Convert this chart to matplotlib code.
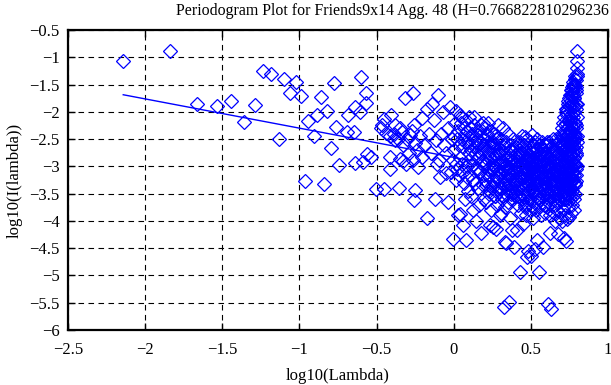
import matplotlib
matplotlib.use("Agg")
import matplotlib.pyplot as plt

TITLE = "Periodogram Plot for Friends9x14 Agg. 48 (H=0.766822810296236"

# periodogram points (log10 lambda, log10 I)
log_lambda = [
    # sparse low-frequency part
    -2.142, -1.838, -1.664, -1.536, -1.442, -1.358, -1.291, -1.238, -1.187, -1.133,
    -1.100, -1.060, -1.020, -0.989, -0.967, -0.944, -0.907, -0.889, -0.860, -0.838,
    -0.822, -0.793, -0.778, -0.760, -0.745, -0.693, -0.682, -0.649, -0.638, -0.640,
    -0.609, -0.604, -0.585, -0.571, -0.571, -0.562, -0.533, -0.504, -0.470, -0.467,
    -0.449, -0.449, -0.440, -0.416, -0.416, -0.410, -0.404, -0.390, -0.382, -0.382,
    -0.360, -0.355, -0.351, -0.350, -0.338, -0.330, -0.327, -0.318, -0.310, -0.300,
    -0.293, -0.282, -0.270, -0.265, -0.262, -0.260, -0.256, -0.251, -0.249, -0.240,
    -0.229, -0.220, -0.204, -0.204, -0.190, -0.171, -0.170, -0.160, -0.150, -0.138,
    -0.130, -0.120, -0.116, -0.110, -0.104, -0.093, -0.090, -0.080, -0.071, -0.060,
    -0.049, -0.048, -0.040, -0.035, -0.027, -0.020, -0.010, -0.004, -0.002,
    # 0.00 - 0.10
    0.005, 0.012, 0.020, 0.028, 0.035, 0.040, 0.047, 0.055, 0.060, 0.066,
    0.072, 0.078, 0.083, 0.088, 0.093, 0.097, 0.015, 0.050, 0.070, 0.090,
    # 0.10 - 0.20
    0.102, 0.106, 0.110, 0.115, 0.119, 0.123, 0.127, 0.131, 0.135, 0.139,
    0.143, 0.147, 0.151, 0.155, 0.159, 0.163, 0.167, 0.171, 0.175, 0.179,
    0.183, 0.187, 0.191, 0.195, 0.199,
    # 0.20 - 0.30
    0.202, 0.205, 0.209, 0.212, 0.216, 0.219, 0.222, 0.226, 0.229, 0.232,
    0.236, 0.239, 0.242, 0.245, 0.249, 0.252, 0.255, 0.258, 0.262, 0.265,
    0.268, 0.271, 0.274, 0.277, 0.281, 0.284, 0.287, 0.290, 0.294, 0.297,
    # 0.30 - 0.40
    0.301, 0.304, 0.307, 0.309, 0.312, 0.315, 0.318, 0.320, 0.323, 0.326,
    0.328, 0.331, 0.333, 0.336, 0.338, 0.341, 0.344, 0.346, 0.349, 0.352,
    0.354, 0.356, 0.359, 0.362, 0.364, 0.367, 0.370, 0.372, 0.375, 0.378,
    0.381, 0.384, 0.387, 0.390, 0.393, 0.396, 0.399,
    # 0.40 - 0.50
    0.401, 0.403, 0.406, 0.408, 0.410, 0.413, 0.415, 0.417, 0.420, 0.422,
    0.424, 0.427, 0.429, 0.431, 0.433, 0.436, 0.438, 0.440, 0.442, 0.444,
    0.447, 0.449, 0.451, 0.453, 0.455, 0.458, 0.460, 0.462, 0.464, 0.466,
    0.468, 0.470, 0.472, 0.474, 0.477, 0.479, 0.481, 0.483, 0.486, 0.488,
    0.490, 0.492, 0.494, 0.496, 0.498,
    # 0.50 - 0.60
    0.501, 0.503, 0.505, 0.507, 0.509, 0.511, 0.513, 0.515, 0.517, 0.519,
    0.521, 0.524, 0.526, 0.528, 0.530, 0.532, 0.534, 0.536, 0.538, 0.540,
    0.542, 0.544, 0.546, 0.548, 0.550, 0.552, 0.555, 0.557, 0.559, 0.561,
    0.563, 0.565, 0.567, 0.569, 0.571, 0.573, 0.575, 0.577, 0.580, 0.582,
    0.584, 0.586, 0.588, 0.590, 0.592, 0.594, 0.596, 0.598,
    # 0.60 - 0.70
    0.601, 0.603, 0.605, 0.607, 0.609, 0.611, 0.613, 0.615, 0.617, 0.619,
    0.621, 0.623, 0.625, 0.627, 0.629, 0.631, 0.633, 0.635, 0.637, 0.639,
    0.641, 0.643, 0.645, 0.647, 0.649, 0.651, 0.653, 0.655, 0.657, 0.659,
    0.661, 0.663, 0.665, 0.667, 0.669, 0.671, 0.673, 0.675, 0.677, 0.679,
    0.681, 0.683, 0.685, 0.687, 0.689, 0.691, 0.693, 0.695, 0.697, 0.699,
    # 0.70 - 0.75
    0.701, 0.702, 0.703, 0.704, 0.705, 0.706, 0.707, 0.708, 0.709, 0.710,
    0.711, 0.712, 0.713, 0.714, 0.715, 0.716, 0.717, 0.718, 0.719, 0.720,
    0.721, 0.722, 0.723, 0.724, 0.725, 0.726, 0.727, 0.728, 0.729, 0.730,
    0.731, 0.732, 0.733, 0.734, 0.735, 0.736, 0.737, 0.738, 0.739, 0.740,
    0.741, 0.742, 0.743, 0.744, 0.745, 0.746, 0.747, 0.748, 0.749, 0.750,
    # 0.75 - 0.80 (upturn)
    0.751, 0.752, 0.753, 0.7535, 0.754, 0.755, 0.756, 0.757, 0.758, 0.7585, 0.759, 0.760,
    0.761, 0.762, 0.763, 0.7635, 0.764, 0.765, 0.766, 0.767, 0.768, 0.7685, 0.769, 0.770,
    0.771, 0.772, 0.773, 0.7735, 0.774, 0.775, 0.776, 0.777, 0.778, 0.7785, 0.779, 0.780,
    0.781, 0.782, 0.783, 0.7835, 0.784, 0.785, 0.786, 0.787, 0.788, 0.7885, 0.789, 0.790,
    0.791, 0.792, 0.793, 0.7935, 0.794, 0.795, 0.796, 0.797, 0.7975, 0.798,
    0.799, 0.800,
    # dense core, 0.20 - 0.44
    0.2035, 0.2095, 0.2155, 0.2215, 0.2275, 0.2335, 0.2395, 0.2455, 0.2515, 0.2575,
    0.2635, 0.2695, 0.2755, 0.2815, 0.2875, 0.2935, 0.2995, 0.3055, 0.3115, 0.3175,
    0.3235, 0.3295, 0.3355, 0.3415, 0.3475, 0.3535, 0.3595, 0.3655, 0.3715, 0.3775,
    0.3835, 0.3895, 0.3955, 0.4015, 0.4075, 0.4135, 0.4195, 0.4255, 0.4315, 0.4375,
    # dense core, 0.44 - 0.70
    0.4405, 0.4445, 0.4485, 0.4525, 0.4565, 0.4605, 0.4645, 0.4685, 0.4725, 0.4765,
    0.4805, 0.4845, 0.4885, 0.4925, 0.4965, 0.5005, 0.5045, 0.5085, 0.5125, 0.5165,
    0.5205, 0.5245, 0.5285, 0.5325, 0.5365, 0.5405, 0.5445, 0.5485, 0.5525, 0.5565,
    0.5605, 0.5645, 0.5685, 0.5725, 0.5765, 0.5805, 0.5845, 0.5885, 0.5925, 0.5965,
    0.6005, 0.6045, 0.6085, 0.6125, 0.6165, 0.6205, 0.6245, 0.6285, 0.6325, 0.6365,
    0.6405, 0.6445, 0.6485, 0.6525, 0.6565, 0.6605, 0.6645, 0.6685, 0.6725, 0.6765,
    0.6805, 0.6845, 0.6885, 0.6925, 0.6965,
    # dense core, 0.70 - 0.80
    0.7005, 0.7025, 0.7045, 0.7065, 0.7085, 0.7105, 0.7125, 0.7145, 0.7165, 0.7185,
    0.7205, 0.7225, 0.7245, 0.7265, 0.7285, 0.7305, 0.7325, 0.7345, 0.7365, 0.7385,
    0.7405, 0.7425, 0.7445, 0.7465, 0.7485, 0.7505, 0.7525, 0.7545, 0.7565, 0.7585,
    0.7605, 0.7625, 0.7645, 0.7665, 0.7685, 0.7705, 0.7725, 0.7745, 0.7765, 0.7785,
    0.7805, 0.7825, 0.7845, 0.7865, 0.7885, 0.7905, 0.7925, 0.7945, 0.7965, 0.7985,
    # upper edge, 0.00 - 0.27
    0.008, 0.025, 0.038, 0.052, 0.068, 0.081, 0.095, 0.108, 0.121, 0.134,
    0.148, 0.161, 0.174, 0.188, 0.201, 0.214, 0.228, 0.241, 0.255, 0.268,
    # core fill, 0.25 - 0.70
    0.2520, 0.2595, 0.2670, 0.2745, 0.2820, 0.2895, 0.2970, 0.3045, 0.3120, 0.3195,
    0.3270, 0.3345, 0.3420, 0.3495, 0.3570, 0.3645, 0.3720, 0.3795, 0.3870, 0.3945,
    0.4020, 0.4095, 0.4170, 0.4245, 0.4320, 0.4395, 0.4470, 0.4545, 0.4620, 0.4695,
    0.4770, 0.4845, 0.4920, 0.4995, 0.5070, 0.5145, 0.5220, 0.5295, 0.5370, 0.5445,
    0.5520, 0.5595, 0.5670, 0.5745, 0.5820, 0.5895, 0.5970, 0.6045, 0.6120, 0.6195,
    0.6270, 0.6345, 0.6420, 0.6495, 0.6570, 0.6645, 0.6720, 0.6795, 0.6870, 0.6945,
    # tail fill, 0.72 - 0.80
    0.7215, 0.7235, 0.7255, 0.7275, 0.7295, 0.7315, 0.7335, 0.7355, 0.7375, 0.7395,
    0.7415, 0.7435, 0.7455, 0.7475, 0.7495, 0.7515, 0.7535, 0.7555, 0.7575, 0.7595,
    0.7615, 0.7635, 0.7655, 0.7675, 0.7695, 0.7715, 0.7735, 0.7755, 0.7775, 0.7795,
    0.7815, 0.7835, 0.7855, 0.7875, 0.7895, 0.7915, 0.7935, 0.7955, 0.7975, 0.7995,
    # left fill, 0.00 - 0.20
    0.003, 0.013, 0.023, 0.033, 0.043, 0.058, 0.063, 0.075, 0.086, 0.099,
    0.112, 0.125, 0.137, 0.145, 0.157, 0.169, 0.181, 0.193, 0.197, 0.185,
]

log_I = [
    # sparse low-frequency part
    -1.06, -0.88, -1.85, -1.90, -1.80, -2.18, -1.88, -1.26, -1.31, -2.50,
    -1.40, -1.65, -1.45, -1.71, -3.27, -2.16, -2.45, -2.05, -1.73, -3.32,
    -1.98, -2.66, -1.48, -2.27, -2.97, -2.37, -2.06, -2.37, -1.91, -2.93,
    -2.00, -1.37, -2.92, -1.66, -1.84, -2.77, -2.82, -3.41, -2.30, -2.24,
    -2.14, -3.42, -2.38, -2.82, -3.04, -2.45, -2.06, -2.40, -2.24, -2.52,
    -2.50, -3.40, -2.86, -2.30, -2.37, -2.60, -2.91, -1.75, -2.95, -2.50,
    -2.76, -2.43, -2.35, -1.66, -2.89, -2.24, -3.62, -3.44, -2.58, -2.70,
    -3.01, -2.45, -2.12, -2.82, -2.60, -1.94, -3.95, -2.40, -2.75, -1.85,
    -2.15, -3.59, -2.52, -2.95, -1.70, -2.88, -3.20, -2.40, -2.00, -2.60,
    -2.76, -3.13, -3.66, -2.30, -1.91, -3.10, -2.50, -2.88, -4.34,
    # 0.00 - 0.10
    -2.45, -1.99, -3.05, -3.90, -2.60, -3.87, -2.20, -2.95, -4.08, -3.30,
    -2.55, -4.35, -3.00, -2.35, -3.45, -2.75, -3.25, -2.10, -3.60, -2.90,
    # 0.10 - 0.20
    -2.10, -3.15, -2.70, -3.55, -2.40, -2.95, -3.80, -2.25, -3.30, -2.65,
    -3.05, -4.00, -2.50, -3.40, -2.85, -3.70, -2.35, -3.10, -2.75, -4.23,
    -2.95, -3.35, -2.20, -3.60, -3.00,
    # 0.20 - 0.30
    -2.60, -3.25, -2.85, -3.65, -2.45, -3.05, -2.20, -3.45, -2.75, -4.08,
    -3.15, -2.55, -3.80, -2.95, -3.35, -2.65, -4.11, -3.00, -2.40, -3.55,
    -2.85, -4.14, -3.20, -2.50, -3.70, -3.05, -2.75, -2.25, -3.40, -3.90,
    # 0.30 - 0.40
    -2.75, -3.30, -2.50, -3.85, -3.05, -2.90, -3.55, -2.30, -5.58, -3.20,
    -2.65, -3.75, -4.38, -3.00, -4.41, -2.55, -3.40, -2.85, -3.65, -3.10,
    -2.40, -5.49, -3.30, -2.70, -3.95, -3.05, -3.50, -2.60, -3.20, -4.16,
    -2.90, -3.60, -2.50, -3.35, -4.48, -3.05, -2.80,
    # 0.40 - 0.50
    -3.10, -2.65, -3.45, -2.90, -4.16, -3.25, -2.55, -3.70, -3.00, -2.80,
    -3.55, -3.15, -4.93, -2.70, -3.35, -3.85, -2.95, -3.20, -2.45, -3.60,
    -3.05, -4.05, -2.85, -3.40, -3.15, -2.60, -3.75, -3.00, -2.46, -3.30,
    -3.90, -2.75, -3.50, -4.67, -3.10, -2.90, -4.56, -3.25, -2.70, -3.60,
    -3.00, -3.80, -2.55, -3.35, -4.65,
    # 0.50 - 0.60
    -2.90, -3.40, -2.43, -3.15, -3.70, -2.75, -3.25, -3.95, -3.00, -2.60,
    -3.50, -4.51, -3.10, -2.85, -3.35, -3.80, -2.70, -3.20, -3.05, -4.35,
    -2.50, -3.60, -3.30, -2.95, -3.75, -3.10, -4.93, -2.80, -3.45, -3.00,
    -2.65, -3.90, -3.25, -2.90, -3.55, -3.10, -2.55, -3.40, -4.48, -3.00,
    -3.70, -2.75, -3.30, -3.15, -2.60, -3.85, -3.05, -3.50,
    # 0.60 - 0.70
    -3.00, -2.60, -3.40, -3.75, -2.85, -5.52, -3.20, -2.55, -3.55, -3.05,
    -3.90, -2.75, -3.30, -4.23, -2.95, -5.61, -3.45, -2.65, -3.15, -3.70,
    -2.50, -3.35, -3.00, -3.85, -2.80, -3.25, -3.60, -2.70, -3.10, -4.00,
    -2.90, -3.50, -2.60, -3.20, -3.80, -3.05, -2.75, -3.40, -4.24, -2.55,
    -3.15, -3.65, -2.85, -3.30, -3.95, -2.65, -3.00, -3.55, -2.45, -3.25,
    # 0.70 - 0.75
    -2.90, -3.50, -2.30, -3.10, -4.00, -2.70, -3.30, -2.50, -3.80, -3.00,
    -2.20, -3.60, -2.85, -4.32, -3.15, -2.60, -3.45, -2.10, -3.90, -2.95,
    -3.25, -2.40, -3.70, -2.75, -3.05, -1.95, -4.36, -3.40, -2.55, -3.20,
    -2.00, -3.60, -2.80, -3.35, -2.30, -3.96, -2.65, -3.10, -1.85, -3.50,
    -2.90, -2.45, -3.75, -2.15, -3.25, -2.70, -3.93, -1.75, -3.00, -2.50,
    # 0.75 - 0.80 (upturn)
    -2.40, -3.30, -1.90, -2.80, -3.60, -2.20, -3.00, -1.70, -3.40, -2.55, -3.85, -2.05,
    -2.90, -1.60, -3.20, -2.35, -3.70, -2.65, -1.85, -3.10, -2.50, -1.55, -3.45, -2.75,
    -2.10, -3.55, -1.65, -2.95, -2.30, -3.25, -1.45, -2.60, -3.80, -2.00, -2.85, -1.75,
    -3.15, -2.45, -1.50, -3.50, -2.20, -2.98, -1.35, -2.70, -3.35, -1.90, -2.50, -1.60,
    -3.26, -2.30, -1.42, -2.80, -1.95, -3.05, -1.30, -2.55, -1.20, -2.10,
    -1.06, -0.88,
    # dense core, 0.20 - 0.44
    -2.95, -3.35, -2.70, -3.15, -3.50, -2.85, -3.05, -3.40, -2.60, -3.25,
    -3.00, -3.55, -2.80, -3.20, -2.65, -3.45, -2.90, -3.10, -3.60, -2.75,
    -3.30, -2.95, -2.60, -3.50, -3.05, -2.85, -3.35, -3.15, -2.70, -3.45,
    -2.90, -3.25, -3.55, -2.65, -3.00, -3.40, -2.80, -3.20, -2.55, -3.60,
    # dense core, 0.44 - 0.70
    -3.20, -2.75, -3.50, -3.00, -2.60, -3.35, -3.70, -2.90, -3.15, -2.50,
    -3.45, -3.05, -2.80, -3.60, -3.25, -2.65, -3.00, -3.40, -2.85, -3.75,
    -3.10, -2.55, -3.30, -2.95, -3.55, -2.70, -3.20, -3.65, -2.90, -3.05,
    -2.60, -3.40, -3.15, -2.80, -3.50, -3.00, -2.70, -3.30, -3.70, -2.95,
    -3.20, -2.55, -3.45, -3.10, -2.85, -3.60, -3.00, -2.65, -3.35, -3.25,
    -2.90, -3.55, -2.75, -3.15, -3.70, -2.50, -3.05, -3.40, -2.80, -3.30,
    -3.60, -2.95, -2.60, -3.20, -3.45,
    # dense core, 0.70 - 0.80
    -3.30, -2.60, -3.00, -3.55, -2.45, -2.85, -3.20, -2.35, -3.45, -2.75,
    -3.10, -2.25, -3.60, -2.90, -2.55, -3.35, -2.05, -3.00, -2.70, -3.50,
    -2.40, -3.15, -1.90, -2.80, -3.40, -2.60, -3.05, -2.15, -3.55, -2.50,
    -1.80, -3.25, -2.90, -2.30, -3.45, -1.70, -2.65, -3.10, -2.00, -3.60,
    -2.40, -1.55, -2.95, -3.30, -2.20, -1.65, -2.75, -3.15, -1.85, -2.45,
    # upper edge, 0.00 - 0.27
    -2.20, -2.35, -2.05, -2.50, -2.30, -2.15, -2.55, -2.30, -2.45, -2.10,
    -2.35, -2.60, -2.25, -2.50, -2.30, -2.40, -2.60, -2.35, -2.55, -2.45,
    # core fill, 0.25 - 0.70
    -3.05, -3.30, -2.80, -3.45, -2.95, -3.20, -2.75, -3.40, -3.10, -2.90,
    -3.35, -3.00, -3.50, -2.85, -3.25, -2.70, -3.15, -3.45, -2.95, -3.30,
    -2.80, -3.10, -3.55, -3.00, -2.75, -3.40, -3.20, -2.90, -3.35, -3.05,
    -3.50, -2.85, -3.25, -3.00, -2.70, -3.45, -3.15, -2.95, -3.30, -2.80,
    -3.10, -3.60, -2.90, -3.20, -3.40, -2.75, -3.05, -3.50, -2.85, -3.30,
    -3.00, -3.25, -2.70, -3.45, -3.10, -2.90, -3.55, -3.20, -2.80, -3.35,
    # tail fill, 0.72 - 0.80
    -2.60, -3.20, -2.20, -2.90, -3.50, -2.45, -1.95, -3.05, -2.70, -3.35,
    -2.30, -1.80, -2.85, -3.15, -2.50, -1.70, -3.40, -2.60, -2.05, -3.00,
    -2.35, -1.60, -2.80, -3.25, -1.90, -2.55, -1.50, -3.10, -2.20, -1.75,
    -2.95, -1.40, -2.45, -3.30, -1.85, -2.65, -1.55, -2.25, -3.00, -1.35,
    # left fill, 0.00 - 0.20
    -2.70, -2.95, -2.50, -3.15, -2.85, -2.65, -3.10, -2.40, -3.20, -2.60,
    -2.85, -3.25, -2.55, -2.75, -3.05, -2.45, -2.90, -2.60, -3.15, -2.70,
]

# least-squares fit line end points
fit_x = [-2.142, 0.12]
fit_y = [-1.687, -2.90]

x_ticks = [-2.5, -2, -1.5, -1, -0.5, 0, 0.5, 1]
y_ticks = [-6, -5.5, -5, -4.5, -4, -3.5, -3, -2.5, -2, -1.5, -1, -0.5]

plt.rcParams["font.family"] = ["Liberation Serif", "DejaVu Serif"]

fig = plt.figure(figsize=(6.11, 3.85), dpi=100)
ax = fig.add_axes([68 / 611, 1 - 330 / 385, 540 / 611, 300 / 385])

ax.plot(log_lambda, log_I, linestyle="none", marker="D", markersize=7,
        markerfacecolor="none", markeredgecolor="#0000ff", markeredgewidth=0.9)
ax.plot(fit_x, fit_y, color="#0000ff", linewidth=1.0)

ax.set_xlim(-2.5, 1)
ax.set_ylim(-6, -0.5)
ax.set_xticks(x_ticks)
ax.set_yticks(y_ticks)
ax.set_xticklabels([f"{v:g}".replace("-", "\u2212") for v in x_ticks])
ax.set_yticklabels([f"{v:g}".replace("-", "\u2212") for v in y_ticks])
ax.tick_params(direction="in", length=5, width=1, top=True, right=True,
               labelsize=12, colors="black")
ax.tick_params(axis="x", pad=9)
ax.tick_params(axis="y", pad=6)
ax.grid(True, color="black", linestyle=(0, (5, 4)), linewidth=0.8)
for s in ax.spines.values():
    s.set_linewidth(1.6)

ax.set_xlabel("log10(Lambda)", fontsize=12, labelpad=7)
ax.set_ylabel("log10(I(lambda))", fontsize=12, labelpad=5)
fig.text(609 / 611, 1 - 11 / 385, TITLE, ha="right", va="center", fontsize=11.4)

fig.savefig("out.png", dpi=100)
